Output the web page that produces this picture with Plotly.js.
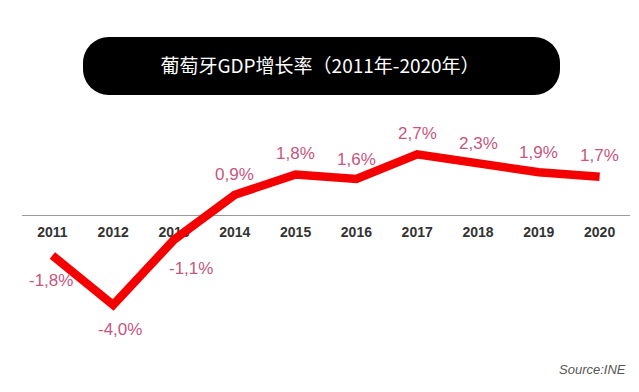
<!DOCTYPE html>
<html>
<head>
<meta charset="utf-8">
<script src="https://cdn.plot.ly/plotly-3.0.1.min.js"></script>
<style>html,body{margin:0;padding:0;background:#fff;}#chart{width:639px;height:392px;}</style>
</head>
<body>
<div id="chart"></div>
<script>
// ---- data ----
const years = [2011, 2012, 2013, 2014, 2015, 2016, 2017, 2018, 2019, 2020];
const yearLabels = ['2011','2012','2013','2014','2015','2016','2017','2018','2019','2020'];
const growth = [-1.8, -4.0, -1.1, 0.9, 1.8, 1.6, 2.7, 2.3, 1.9, 1.7];
const titleText = '葡萄牙GDP增长率（2011年-2020年）';
const sourceText = 'Source:INE';

// ---- style / layout helpers ----
const W = 639, H = 392;
const M = {l: 22, r: 9, t: 110, b: 42};
const plotW = W - M.l - M.r, plotH = H - M.t - M.b;
const yRange = [-6, 4.667];
const px2x = px => (px - M.l) / plotW;
const py2y = py => (H - M.b - py) / plotH;

// label offsets in px (dx right, dy up)
const labelShift = [[-1,-25],[7,-24],[17,-29],[0,20],[0,21],[0,20],[0,21],[0,20],[0,20],[0,21]];

const labelColor = 'rgb(198,86,126)';
const annotations = years.map((yr, i) => ({
  x: yr, y: growth[i], xref: 'x', yref: 'y',
  text: growth[i].toFixed(1).replace('.', ',') + '%',
  showarrow: false,
  xshift: labelShift[i][0], yshift: labelShift[i][1],
  font: {family: 'Liberation Sans, Arial, sans-serif', size: 17, color: labelColor}
}));
annotations.push({
  x: px2x(628), y: py2y(369), xref: 'paper', yref: 'paper',
  xanchor: 'right', yanchor: 'middle', showarrow: false,
  text: '<i>' + sourceText + '</i>',
  font: {family: 'Liberation Sans, Arial, sans-serif', size: 13, color: '#555'}
});

// rounded title box path (pixel -> paper)
function roundedRect(x0, y0, x1, y1, r) {
  const k = 0.5523 * r;
  const P = (x, y) => px2x(x).toFixed(5) + ',' + py2y(y).toFixed(5);
  return 'M' + P(x0 + r, y0) +
    ' L' + P(x1 - r, y0) +
    ' C' + P(x1 - r + k, y0) + ' ' + P(x1, y0 + r - k) + ' ' + P(x1, y0 + r) +
    ' L' + P(x1, y1 - r) +
    ' C' + P(x1, y1 - r + k) + ' ' + P(x1 - r + k, y1) + ' ' + P(x1 - r, y1) +
    ' L' + P(x0 + r, y1) +
    ' C' + P(x0 + r - k, y1) + ' ' + P(x0, y1 - r + k) + ' ' + P(x0, y1 - r) +
    ' L' + P(x0, y0 + r) +
    ' C' + P(x0, y0 + r - k) + ' ' + P(x0 + r - k, y0) + ' ' + P(x0 + r, y0) + ' Z';
}

const trace = {
  type: 'scatter', mode: 'lines',
  x: years, y: growth,
  line: {color: 'rgb(245,0,0)', width: 8.5},
  hoverinfo: 'skip'
};

const layout = {
  width: W, height: H,
  margin: M,
  paper_bgcolor: '#fff', plot_bgcolor: '#fff',
  showlegend: false,
  title: {
    text: titleText,
    font: {family: 'Noto Sans CJK SC, sans-serif', size: 19, color: '#fff'},
    xref: 'container', yref: 'container',
    x: 320 / W, xanchor: 'center',
    y: 1 - 66 / H, yanchor: 'middle'
  },
  xaxis: {
    type: 'linear',
    range: [2010.5, 2020.5],
    anchor: 'free',
    position: (0 - yRange[0]) / (yRange[1] - yRange[0]),
    showline: true, linecolor: '#9a9a9a', linewidth: 1,
    showgrid: false, zeroline: false,
    tickmode: 'array', tickvals: years, ticktext: yearLabels,
    ticks: '', ticklabelstandoff: 4,
    tickfont: {family: 'Liberation Sans, Arial, sans-serif', size: 14, color: '#333', weight: 'bold'},
    layer: 'below traces',
    fixedrange: true
  },
  yaxis: {
    range: yRange,
    visible: false,
    showgrid: false, zeroline: false,
    fixedrange: true
  },
  shapes: [{
    type: 'path', xref: 'paper', yref: 'paper',
    path: roundedRect(83, 37, 560, 95, 26),
    fillcolor: '#000', line: {width: 0},
    layer: 'below'
  }],
  annotations: annotations
};

Plotly.newPlot('chart', [trace], layout, {staticPlot: true, displayModeBar: false});
</script>
</body>
</html>
